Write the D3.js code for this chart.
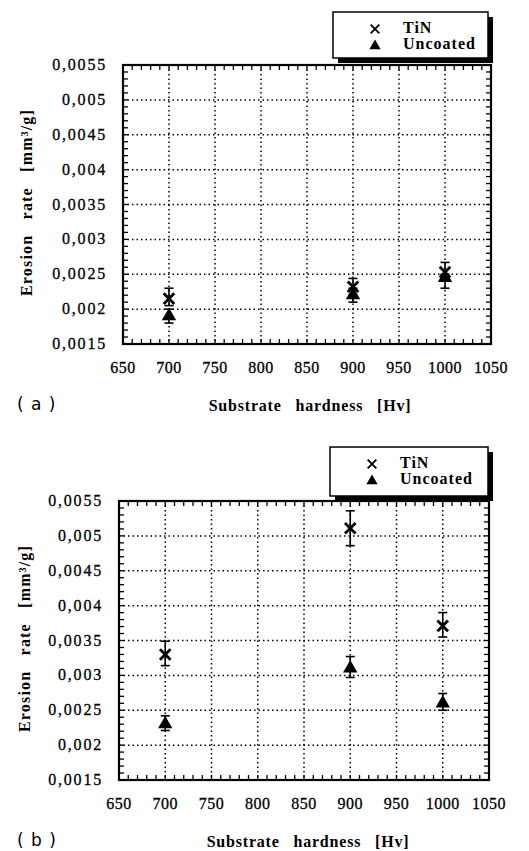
<!DOCTYPE html>
<html><head><meta charset="utf-8">
<script src="https://cdn.jsdelivr.net/npm/d3@7"></script>
<style>
body{margin:0;background:#fff;}
svg{display:block;}
</style></head>
<body>
<script>
// ---- data ----
const hardness = [700, 900, 1000];
const xTicks = [650, 700, 750, 800, 850, 900, 950, 1000, 1050];
const yTicks = [0.0015, 0.002, 0.0025, 0.003, 0.0035, 0.004, 0.0045, 0.005, 0.0055];
const yTickLabels = ["0,0015", "0,002", "0,0025", "0,003", "0,0035", "0,004", "0,0045", "0,005", "0,0055"];
const seriesNames = ["TiN", "Uncoated"];

// panel (a)
const tinA = [0.00215, 0.00232, 0.00253];
const tinA_lo = [0.00205, 0.0022, 0.0024];
const tinA_hi = [0.0023, 0.00244, 0.00267];
const uncA = [0.0019, 0.0022, 0.00245];
const uncA_lo = [0.0018, 0.0021, 0.0023];
const uncA_hi = [0.002, 0.0023, 0.0025];

// panel (b)
const tinB = [0.0033, 0.00511, 0.00371];
const tinB_lo = [0.00314, 0.00486, 0.00355];
const tinB_hi = [0.00349, 0.00536, 0.0039];
const uncB = [0.0023, 0.0031, 0.0026];
const uncB_lo = [0.00221, 0.00297, 0.0025];
const uncB_hi = [0.00242, 0.00327, 0.00274];

const xLabel = "Substrate hardness [Hv]";
const yLabel = "Erosion rate [mm³/g]";

const svg = d3.select("body").append("svg").attr("width", 529).attr("height", 851);
const serif = "Liberation Serif, DejaVu Serif, serif";

function drawPanel(p) {
  const g = svg.append("g");
  const x = d3.scaleLinear().domain([650, 1050]).range([p.left, p.right]);
  const y = d3.scaleLinear().domain([0.0015, 0.0055]).range([p.bottom, p.top]);

  // dotted grid
  g.selectAll(".gx").data(xTicks.slice(1, -1)).join("line")
    .attr("x1", d => x(d)).attr("x2", d => x(d)).attr("y1", p.top).attr("y2", p.bottom)
    .attr("stroke", "#000").attr("stroke-width", 1.5).attr("stroke-dasharray", "1.5,3");
  g.selectAll(".gy").data(yTicks.slice(1, -1)).join("line")
    .attr("y1", d => y(d)).attr("y2", d => y(d)).attr("x1", p.left).attr("x2", p.right)
    .attr("stroke", "#000").attr("stroke-width", 1.5).attr("stroke-dasharray", "1.5,3");

  // minor inward ticks on all sides
  const xMinor = d3.range(650, 1051, 10);
  const yMinor = d3.range(15, 56, 1).map(v => v / 10000);
  g.selectAll(".tb").data(xMinor).join("line")
    .attr("x1", d => x(d)).attr("x2", d => x(d)).attr("y1", p.bottom).attr("y2", p.bottom - 5)
    .attr("stroke", "#000").attr("stroke-width", 1.3);
  g.selectAll(".tt").data(xMinor).join("line")
    .attr("x1", d => x(d)).attr("x2", d => x(d)).attr("y1", p.top).attr("y2", p.top + 5)
    .attr("stroke", "#000").attr("stroke-width", 1.3);
  g.selectAll(".tl").data(yMinor).join("line")
    .attr("y1", d => y(d)).attr("y2", d => y(d)).attr("x1", p.left).attr("x2", p.left + 5)
    .attr("stroke", "#000").attr("stroke-width", 1.3);
  g.selectAll(".tr").data(yMinor).join("line")
    .attr("y1", d => y(d)).attr("y2", d => y(d)).attr("x1", p.right).attr("x2", p.right - 5)
    .attr("stroke", "#000").attr("stroke-width", 1.3);

  // frame
  g.append("rect").attr("x", p.left).attr("y", p.top)
    .attr("width", p.right - p.left).attr("height", p.bottom - p.top)
    .attr("fill", "none").attr("stroke", "#000").attr("stroke-width", 2.2);

  // tick labels
  g.selectAll(".xl").data(xTicks).join("text")
    .attr("x", d => x(d)).attr("y", p.bottom + 29)
    .attr("text-anchor", "middle").attr("font-family", serif).attr("font-size", 16)
    .attr("letter-spacing", 0.5).attr("stroke", "#000").attr("stroke-width", 0.3)
    .text(d => d);
  g.selectAll(".yl").data(yTicks).join("text")
    .attr("x", p.left - 16).attr("y", d => y(d) + 5)
    .attr("text-anchor", "end").attr("font-family", serif).attr("font-size", 16)
    .attr("letter-spacing", 1.8).attr("stroke", "#000").attr("stroke-width", 0.3)
    .text((d, i) => yTickLabels[i]);

  // axis titles
  g.append("text").attr("x", p.xLabelX).attr("y", p.bottom + 67)
    .attr("text-anchor", "middle").attr("font-family", serif).attr("font-size", 16)
    .attr("font-weight", "bold").attr("letter-spacing", 0.8).attr("word-spacing", 9)
    .text(xLabel);
  g.append("text")
    .attr("transform", `translate(${p.yLabelX},${(p.top + p.bottom) / 2 - 2}) rotate(-90)`)
    .attr("text-anchor", "middle").attr("font-family", serif).attr("font-size", 16)
    .attr("font-weight", "bold").attr("letter-spacing", 1.2).attr("word-spacing", 10)
    .text(yLabel);
  g.append("text").attr("x", 17).attr("y", p.bottom + 66)
    .attr("font-family", "DejaVu Sans, sans-serif").attr("font-size", 17)
    .attr("word-spacing", 2)
    .text(p.tag);

  // error bars
  function errBars(vals, lo, hi) {
    const eg = g.append("g").attr("stroke", "#000").attr("stroke-width", 1.6);
    hardness.forEach((h, i) => {
      const cx = x(h);
      eg.append("line").attr("x1", cx).attr("x2", cx).attr("y1", y(lo[i])).attr("y2", y(hi[i]));
      eg.append("line").attr("x1", cx - 4.5).attr("x2", cx + 4.5).attr("y1", y(lo[i])).attr("y2", y(lo[i]));
      eg.append("line").attr("x1", cx - 4.5).attr("x2", cx + 4.5).attr("y1", y(hi[i])).attr("y2", y(hi[i]));
    });
  }
  errBars(p.tin, p.tinLo, p.tinHi);
  errBars(p.unc, p.uncLo, p.uncHi);

  const cross = d3.symbol().type(d3.symbolX).size(75);
  const tri = d3.symbol().type(d3.symbolTriangle).size(90);
  g.selectAll(".tin").data(hardness).join("path")
    .attr("transform", (d, i) => `translate(${x(d)},${y(p.tin[i])})`)
    .attr("d", cross).attr("fill", "none").attr("stroke", "#000").attr("stroke-width", 2.8);
  g.selectAll(".unc").data(hardness).join("path")
    .attr("transform", (d, i) => `translate(${x(d)},${y(p.unc[i])})`)
    .attr("d", tri).attr("fill", "#000");

  // legend
  const L = p.legend;
  g.append("rect").attr("x", L.x + 5).attr("y", L.y + 5).attr("width", L.w).attr("height", L.h).attr("fill", "#000");
  g.append("rect").attr("x", L.x).attr("y", L.y).attr("width", L.w).attr("height", L.h)
    .attr("fill", "#fff").attr("stroke", "#000").attr("stroke-width", 1.5);
  g.append("path").attr("transform", `translate(${L.x + 42},${L.y + 17})`)
    .attr("d", d3.symbol().type(d3.symbolX).size(50)).attr("fill", "none").attr("stroke", "#000").attr("stroke-width", 1.9);
  g.append("path").attr("transform", `translate(${L.x + 42},${L.y + 34})`)
    .attr("d", d3.symbol().type(d3.symbolTriangle).size(55)).attr("fill", "#000");
  g.selectAll(".lt").data(seriesNames).join("text")
    .attr("x", L.x + 70).attr("y", (d, i) => L.y + 21 + i * 16)
    .attr("font-family", serif).attr("font-size", 16).attr("font-weight", "bold")
    .attr("letter-spacing", 1)
    .text(d => d);
}

drawPanel({
  left: 123, right: 491, top: 65, bottom: 344, tag: "( a )",
  xLabelX: 310, yLabelX: 32,
  tin: tinA, tinLo: tinA_lo, tinHi: tinA_hi, unc: uncA, uncLo: uncA_lo, uncHi: uncA_hi,
  legend: { x: 333, y: 12, w: 155, h: 46 }
});
drawPanel({
  left: 119, right: 489, top: 501, bottom: 780, tag: "( b )",
  xLabelX: 308, yLabelX: 30,
  tin: tinB, tinLo: tinB_lo, tinHi: tinB_hi, unc: uncB, uncLo: uncB_lo, uncHi: uncB_hi,
  legend: { x: 330, y: 447, w: 158, h: 49 }
});
</script>
</body></html>
